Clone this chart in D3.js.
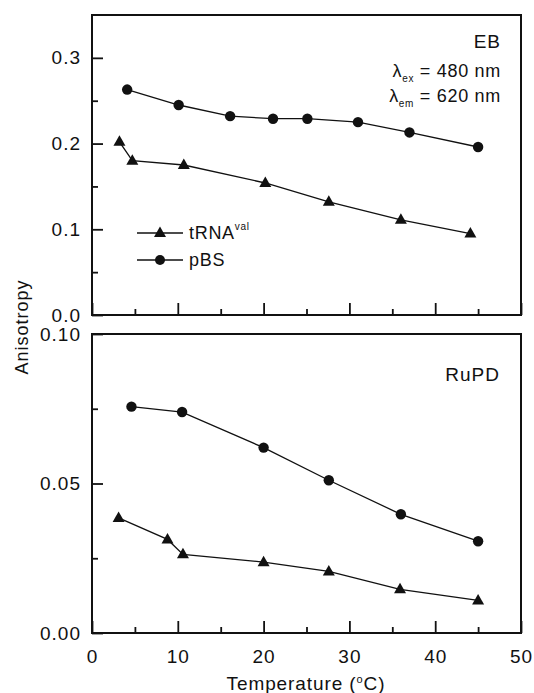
<!DOCTYPE html>
<html>
<head>
<meta charset="utf-8">
<script src="https://cdn.jsdelivr.net/npm/d3@7"></script>
<style>
  body { margin: 0; background: #fff; }
  svg text { font-family: "Liberation Sans", Arial, sans-serif; fill: #111; }
</style>
</head>
<body>
<div id="chart"></div>
<script>
// EB panel (top)
var ebPbsTemp = [4.1, 10.1, 16.1, 21.1, 25.1, 31.0, 37.0, 45.0];
var ebPbsAniso = [0.263, 0.245, 0.232, 0.229, 0.229, 0.225, 0.213, 0.196];
var ebTrnaTemp = [3.2, 4.7, 10.7, 20.2, 27.6, 36.0, 44.1];
var ebTrnaAniso = [0.202, 0.180, 0.175, 0.154, 0.132, 0.111, 0.095];

// RuPD panel (bottom)
var ruPbsTemp = [4.6, 10.5, 20.0, 27.6, 36.0, 45.0];
var ruPbsAniso = [0.0757, 0.0739, 0.0620, 0.0511, 0.0397, 0.0307];
var ruTrnaTemp = [3.1, 8.8, 10.6, 20.0, 27.6, 35.9, 45.0];
var ruTrnaAniso = [0.0385, 0.0313, 0.0263, 0.0237, 0.0206, 0.0146, 0.0109];

var xTicks = [0, 10, 20, 30, 40, 50];
var xMinor = [5, 15, 25, 35, 45];
var ebTicks = [0.0, 0.1, 0.2, 0.3];
var ebMinor = [0.05, 0.15, 0.25];
var ruTicks = [0.00, 0.05, 0.10];
var ruMinor = [0.025, 0.075];

var W = 534, H = 693;
var left = 92, right = 521;

var svg = d3.select("#chart").append("svg")
    .attr("width", W)
    .attr("height", H);

var x = d3.scaleLinear().domain([0, 50]).range([left, right]);

function zip(t, a) {
    return t.map(function(d, i) { return {t: d, a: a[i]}; });
}

var triPath = "M0,-6.5L6,4L-6,4Z";

function panel(top, bottom, yMax, majors, minors, fmt, showX) {
    var y = d3.scaleLinear().domain([0, yMax]).range([bottom, top]);
    var g = svg.append("g");

    // ticks point inward
    g.append("g")
        .attr("transform", "translate(" + left + ",0)")
        .call(d3.axisLeft(y).tickValues(majors).tickSize(-11).tickPadding(11).tickFormat(d3.format(fmt)))
        .call(function(a) { a.select(".domain").remove(); });
    g.append("g")
        .attr("transform", "translate(" + left + ",0)")
        .call(d3.axisLeft(y).tickValues(minors).tickSize(-6).tickFormat(""))
        .call(function(a) { a.select(".domain").remove(); });

    var xa = d3.axisBottom(x).tickValues(xTicks).tickSize(-12).tickPadding(17);
    if (!showX) xa.tickFormat("");
    g.append("g")
        .attr("transform", "translate(0," + bottom + ")")
        .call(xa)
        .call(function(a) { a.select(".domain").remove(); });
    g.append("g")
        .attr("transform", "translate(0," + bottom + ")")
        .call(d3.axisBottom(x).tickValues(xMinor).tickSize(-6).tickFormat(""))
        .call(function(a) { a.select(".domain").remove(); });

    g.selectAll(".tick line").attr("stroke", "#111").attr("stroke-width", 1.8);
    g.selectAll(".tick text")
        .style("font-size", "19px")
        .style("letter-spacing", "1px")
        .attr("fill", "#111");

    g.append("rect")
        .attr("x", left).attr("y", top)
        .attr("width", right - left).attr("height", bottom - top)
        .attr("fill", "none")
        .attr("stroke", "#111")
        .attr("stroke-width", 2);

    return {g: g, y: y};
}

function series(p, data, shape) {
    var line = d3.line()
        .x(function(d) { return x(d.t); })
        .y(function(d) { return p.y(d.a); });
    p.g.append("path")
        .datum(data)
        .attr("d", line)
        .attr("fill", "none")
        .attr("stroke", "#111")
        .attr("stroke-width", 1.3);
    if (shape === "circle") {
        p.g.selectAll(null).data(data).enter()
            .append("circle")
            .attr("cx", function(d) { return x(d.t); })
            .attr("cy", function(d) { return p.y(d.a); })
            .attr("r", 5.2)
            .attr("fill", "#111");
    } else {
        p.g.selectAll(null).data(data).enter()
            .append("path")
            .attr("d", triPath)
            .attr("transform", function(d) { return "translate(" + x(d.t) + "," + p.y(d.a) + ")"; })
            .attr("fill", "#111");
    }
}

var top1 = panel(15, 315, 0.35, ebTicks, ebMinor, ".1f", false);
series(top1, zip(ebPbsTemp, ebPbsAniso), "circle");
series(top1, zip(ebTrnaTemp, ebTrnaAniso), "triangle");

var bot = panel(334, 633, 0.10, ruTicks, ruMinor, ".2f", true);
series(bot, zip(ruPbsTemp, ruPbsAniso), "circle");
series(bot, zip(ruTrnaTemp, ruTrnaAniso), "triangle");

// panel labels
svg.append("text")
    .attr("x", 501).attr("y", 48)
    .attr("text-anchor", "end")
    .style("font-size", "19px").style("letter-spacing", "1px")
    .text("EB");

var lam = [["ex", "480"], ["em", "620"]];
lam.forEach(function(l, i) {
    var t = svg.append("text")
        .attr("x", 501).attr("y", 77 + i * 25)
        .attr("text-anchor", "end")
        .style("font-size", "18px").style("letter-spacing", "0.7px");
    t.append("tspan").text("\u03bb");
    t.append("tspan").attr("dy", 5).style("font-size", "10px").text(l[0]);
    t.append("tspan").attr("dy", -5).text(" = " + l[1] + " nm");
});

svg.append("text")
    .attr("x", 500).attr("y", 381)
    .attr("text-anchor", "end")
    .style("font-size", "19px").style("letter-spacing", "1px")
    .text("RuPD");

// legend
var legend = [{name: "tRNA", sup: "val", shape: "triangle"}, {name: "pBS", sup: "", shape: "circle"}];
legend.forEach(function(d, i) {
    var ly = 233 + i * 27;
    svg.append("line")
        .attr("x1", 137).attr("x2", 183)
        .attr("y1", ly).attr("y2", ly)
        .attr("stroke", "#111").attr("stroke-width", 1.3);
    if (d.shape === "circle") {
        svg.append("circle").attr("cx", 160).attr("cy", ly).attr("r", 5).attr("fill", "#111");
    } else {
        svg.append("path").attr("d", triPath)
            .attr("transform", "translate(160," + ly + ")").attr("fill", "#111");
    }
    var t = svg.append("text")
        .attr("x", 189).attr("y", ly + 6)
        .style("font-size", "18px").style("letter-spacing", "0.7px");
    t.append("tspan").text(d.name);
    if (d.sup) t.append("tspan").attr("dy", -9).style("font-size", "10px").text(d.sup);
});

// axis titles
svg.append("text")
    .attr("transform", "translate(28,327) rotate(-90)")
    .attr("text-anchor", "middle")
    .style("font-size", "18px").style("letter-spacing", "1px")
    .text("Anisotropy");

var xt = svg.append("text")
    .attr("x", 306).attr("y", 690)
    .attr("text-anchor", "middle")
    .style("font-size", "19px").style("letter-spacing", "0.9px");
xt.append("tspan").text("Temperature (");
xt.append("tspan").attr("dy", -7).style("font-size", "11px").text("o");
xt.append("tspan").attr("dy", 7).text("C)");
</script>
</body>
</html>
